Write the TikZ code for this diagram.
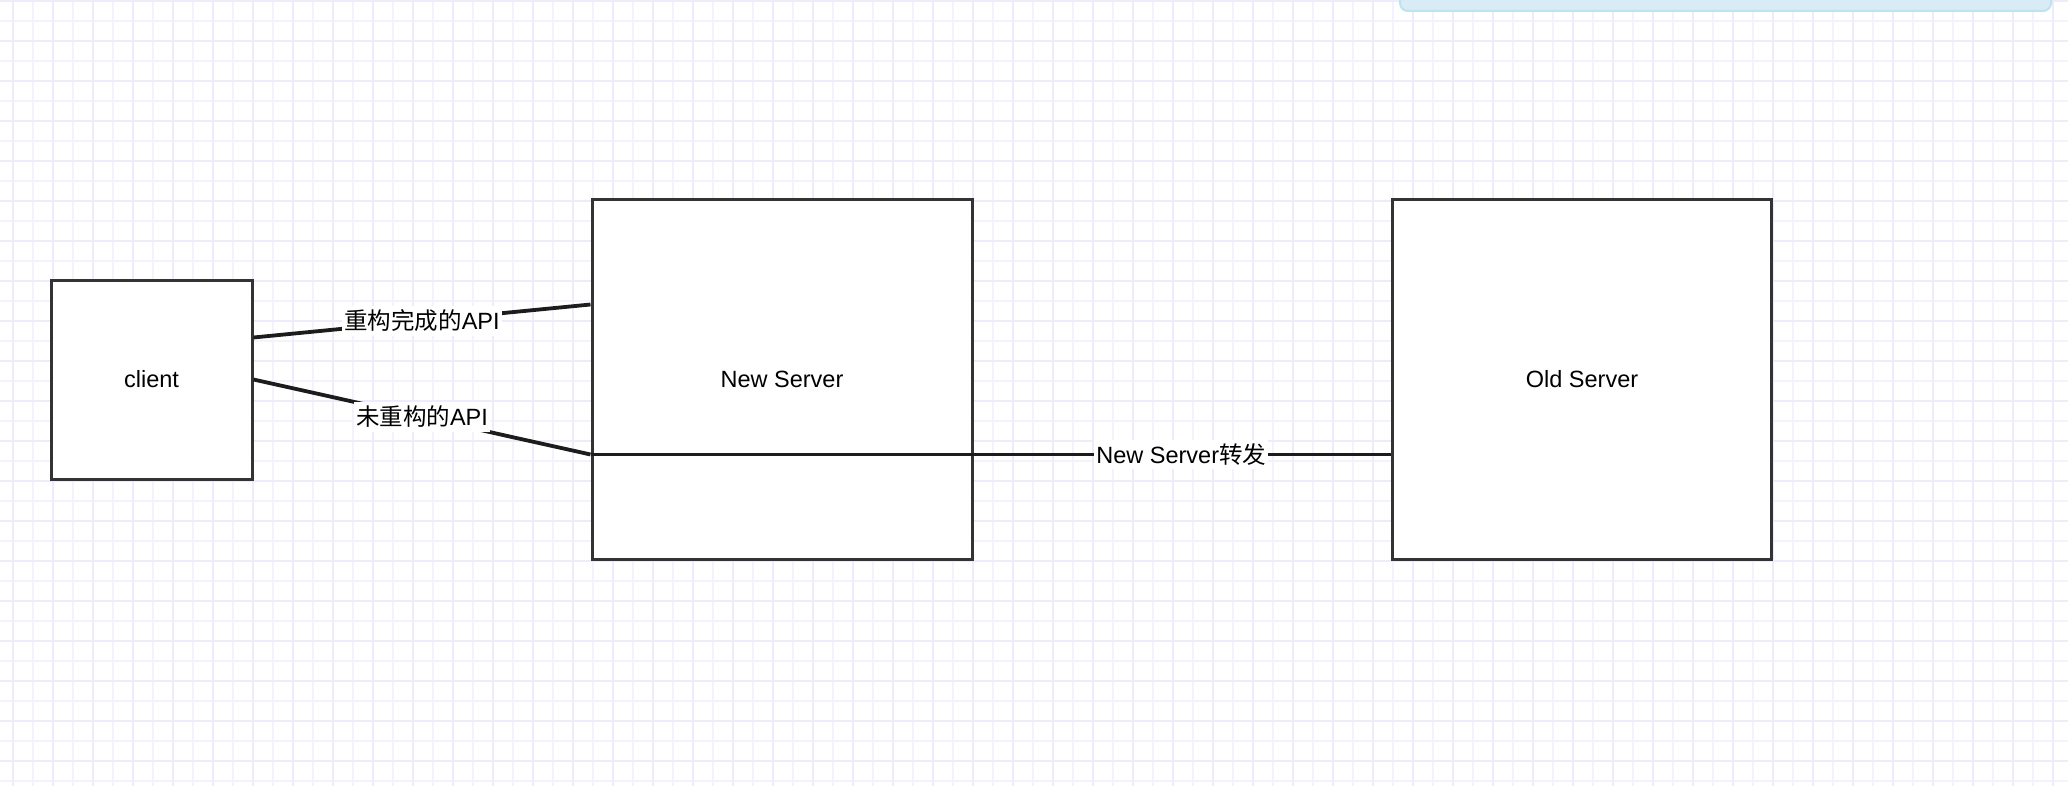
\documentclass[tikz,border=0pt]{standalone}
\usepackage{fontspec}
\setmainfont{Liberation Sans}
\newfontfamily\cjk{Noto Sans CJK SC}
\definecolor{gridline}{HTML}{F3F3FD}
\definecolor{gridmajor}{HTML}{ECECFB}
\definecolor{boxline}{HTML}{333333}
\definecolor{wireline}{HTML}{1C1C1C}
\definecolor{tipfill}{HTML}{D9ECF5}
\definecolor{tipline}{HTML}{BCE4EF}
\tikzset{
  server/.style={draw=boxline,line width=3pt,fill=white,inner sep=0pt},
  wire/.style={draw=wireline,line width=3.8pt},
  tag/.style={fill=white,inner xsep=2pt,inner ysep=4pt},
}
\begin{document}
\begin{tikzpicture}[x=1pt,y=-1pt,font=\fontsize{23.5}{27}\selectfont]
\useasboundingbox (0,0) rectangle (2068,786);
\clip (0,0) rectangle (2068,786);
\fill[white] (0,0) rectangle (2068,786);

% background grid
\foreach \x in {33,73,...,2053} \path[draw,gridline,line width=1.5pt] (\x,0) -- (\x,786);
\foreach \y in {21,61,...,781} \path[draw,gridline,line width=1.5pt] (0,\y) -- (2068,\y);
\foreach \x in {13,53,...,2053} \path[draw,gridmajor,line width=1.5pt] (\x,0) -- (\x,786);
\foreach \y in {1,41,...,781} \path[draw,gridmajor,line width=1.5pt] (0,\y) -- (2068,\y);

\path[draw=tipline,fill=tipfill,line width=2pt,rounded corners=8pt] (1400,-20) rectangle (2051,11);

\node[server,minimum width=201pt,minimum height=199pt] (client) at (151.5,379.5) {client};
\node[server,minimum width=380pt,minimum height=359pt] (new) at (782,379.5) {New Server};
\node[server,minimum width=379pt,minimum height=359pt] (old) at (1582,379.5) {Old Server};

\path[draw,wire] ([yshift=42pt]client.east) -- node[tag] {{\cjk 重构完成的}API} ([yshift=75pt]new.west);
\path[draw,wire] (client.east) -- node[tag] {{\cjk 未重构的}API} ([yshift=-75pt]new.west);
\path[draw,wire] ([yshift=-75pt]new.west) -- node[tag,pos=0.738] {New Server{\cjk 转发}} ([yshift=-75pt]old.west);

\end{tikzpicture}
\end{document}
